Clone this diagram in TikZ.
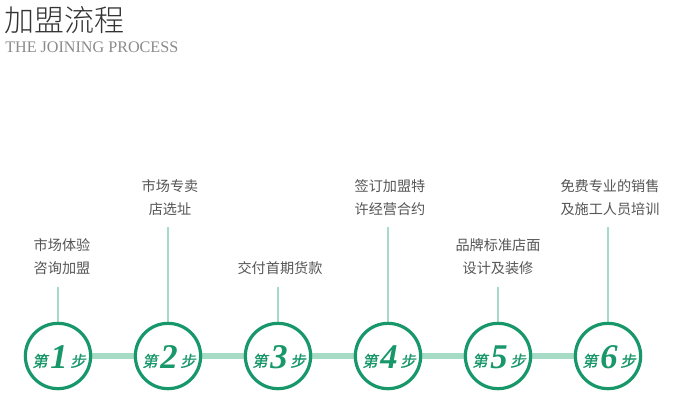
\documentclass[tikz,border=0pt]{standalone}
\usepackage{fontspec}
\setmainfont{Liberation Serif}
\newfontfamily\cjk{Noto Sans CJK SC}
\newfontfamily\cjklight{Noto Sans CJK SC Light}
\newfontfamily\cjkslant[FakeSlant=0.2,FakeBold=1]{Noto Sans CJK SC}
\newfontfamily\digitfont{Liberation Serif}
\definecolor{dkgreen}{HTML}{17976A}
\definecolor{ltgreen}{HTML}{A6DCC6}
\definecolor{titlegray}{HTML}{333333}
\definecolor{subgray}{HTML}{8A8A8A}
\definecolor{labgray}{HTML}{555555}
\tikzset{
  stepcircle/.style={circle, draw=dkgreen, line width=2.4pt, minimum size=49pt, inner sep=0pt, fill=white},
  steplabel/.style={align=center, text=labgray, font=\cjk\fontsize{10.6}{17.3}\selectfont, inner sep=0pt},
  bar/.style={draw=ltgreen, line width=4.5pt},
  vline/.style={draw=ltgreen, line width=1.8pt},
}
\newcommand{\stepnum}[1]{\raisebox{1.5pt}{\cjkslant\fontsize{11.5}{12}\selectfont 第}\hspace{2pt}{\digitfont\bfseries\itshape\fontsize{26}{26}\selectfont #1}\hspace{2pt}\raisebox{1.5pt}{\cjkslant\fontsize{11.5}{12}\selectfont 步}}
\begin{document}
\begin{tikzpicture}[x=0.75pt,y=-0.75pt]
\useasboundingbox (0,0) rectangle (690,405);
\node[anchor=west, inner sep=0pt, text=titlegray, font=\cjklight\fontsize{22.5}{24}\selectfont] (title) at (4,20) {加盟流程};
\node[anchor=west, inner sep=0pt, text=subgray, font=\fontsize{12.1}{13}\selectfont] (sub) at (5,47) {THE JOINING PROCESS};
% bars
\coordinate (b1) at (58,356);
\coordinate (b6) at (608,356);
\draw[bar] (b1) -- (b6);
% labels and vertical lines
\node[steplabel] (t1) at (62,256.5) {市场体验\\咨询加盟};
\node[steplabel] (t2) at (170,197.5) {市场专卖\\店选址};
\node[steplabel] (t3) at (280,268) {交付首期货款};
\node[steplabel] (t4) at (390,197.5) {签订加盟特\\许经营合约};
\node[steplabel] (t5) at (498,256.5) {品牌标准店面\\设计及装修};
\node[steplabel] (t6) at (610,197.5) {免费专业的销售\\及施工人员培训};
\coordinate (v1) at (58,287);
\coordinate (v2) at (168,227);
\coordinate (v3) at (278,287);
\coordinate (v4) at (388,227);
\coordinate (v5) at (498,287);
\coordinate (v6) at (608,227);
\foreach \i/\x in {1/58,2/168,3/278,4/388,5/498,6/608}{
  \draw[vline] (v\i) -- (\x,340);
}
\node[stepcircle] (c1) at (58,356) {};
\node[stepcircle] (c2) at (168,356) {};
\node[stepcircle] (c3) at (278,356) {};
\node[stepcircle] (c4) at (388,356) {};
\node[stepcircle] (c5) at (498,356) {};
\node[stepcircle] (c6) at (608,356) {};
\foreach \i in {1,...,6}{
  \node[text=dkgreen, inner sep=0pt] (n\i) at ([xshift=0.75pt,yshift=-1pt]c\i.center) {\stepnum{\i}};
}
\end{tikzpicture}
\end{document}
